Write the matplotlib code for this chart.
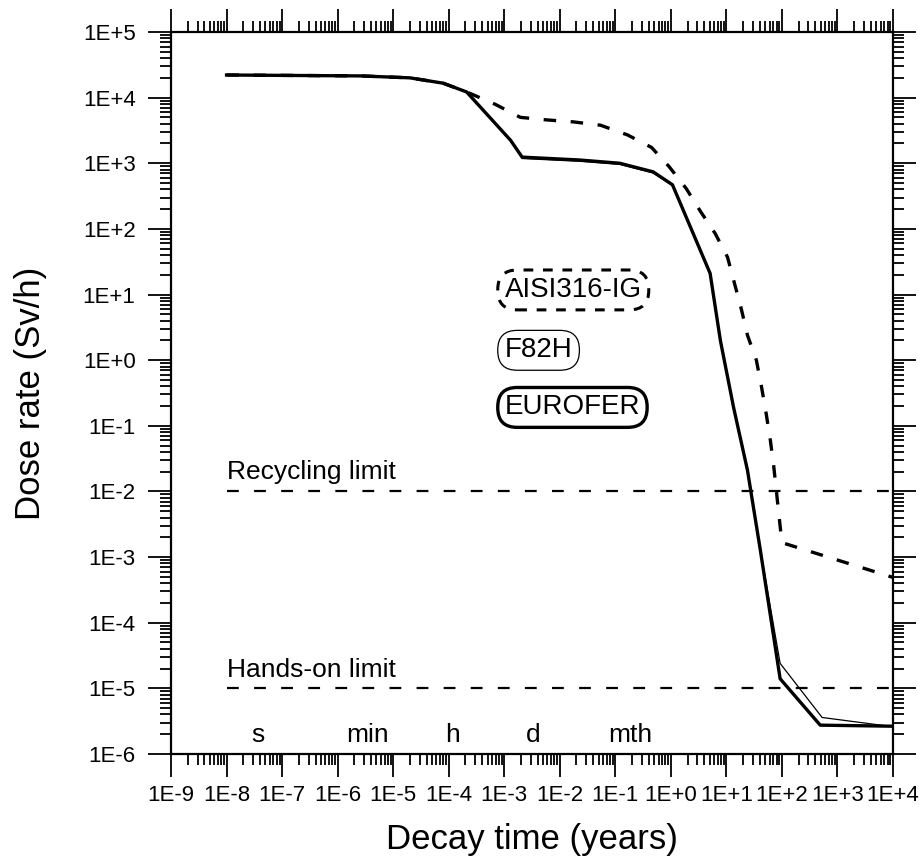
"""
dose rate vs decay time, log-log, three steels
"""

import numpy as np
import matplotlib
matplotlib.use("Agg")
import matplotlib.pyplot as plt
from matplotlib.ticker import LogLocator, FuncFormatter, NullFormatter

plt.rcParams["font.family"] = ["Liberation Sans", "DejaVu Sans"]
plt.rcParams["lines.scale_dashes"] = False

# decay time (years) and dose rate (Sv/h)
eurofer_t = [1e-8, 2.6e-6, 2.0e-5, 7.9e-5, 2.1e-4, 1.3e-3, 2.1e-3, 2.3e-2, 0.12,
             0.48, 1.07, 5.1, 7.8, 13.5, 24, 41, 93, 490, 1e4]
eurofer_d = [22100, 21400, 20000, 16600, 12200, 2240, 1240, 1120, 1000,
             740, 470, 21, 2.0, 0.19, 0.021, 1.26e-3, 1.4e-5, 2.75e-6, 2.65e-6]

f82h_t = [1e-8, 2.6e-6, 2.0e-5, 7.9e-5, 2.1e-4, 1.3e-3, 2.1e-3, 2.3e-2, 0.12,
          0.48, 1.07, 5.1, 7.8, 13.5, 24, 41, 93, 530, 1e4]
f82h_d = [22100, 21400, 20000, 16600, 12200, 2200, 1180, 1070, 960,
          710, 460, 21, 2.0, 0.19, 0.021, 1.3e-3, 2.4e-5, 3.6e-6, 2.6e-6]

aisi_t = [1e-8, 2.6e-6, 2.0e-5, 7.9e-5, 2.1e-4, 6.9e-4, 1.95e-3, 5.9e-3, 1.74e-2,
          5.4e-2, 0.166, 0.45, 0.93, 1.9, 3.4, 6.3, 10.5, 13.8, 18.6, 24,
          34.7, 43, 52, 62, 71, 100, 1e4]
aisi_d = [22100, 21400, 20000, 16600, 12200, 7900, 5000, 4570, 4270,
          3800, 2700, 1740, 890, 410, 186, 85, 37, 15.5, 6.0, 2.4,
          1.0, 0.39, 0.155, 0.060, 0.025, 1.66e-3, 4.9e-4]

recycling_limit = 1e-2
hands_on_limit = 1e-5
limit_start = 1e-8

# time unit marks along the bottom
unit_labels = ["s", "min", "h", "d", "mth"]
unit_pos = [3.7e-8, 3.4e-6, 1.15e-4, 3.3e-3, 0.186]
unit_y = 1.5e-6


def exp_label(v, pos):
    e = int(round(np.log10(v)))
    return f"1E{e:+d}"


fig = plt.figure(figsize=(9.22, 8.57), dpi=100)
ax = fig.add_axes([0.1855, 0.1202, 0.783, 0.8425])

ax.plot(eurofer_t, eurofer_d, color="black", lw=2.4, solid_joinstyle="round")
ax.plot(f82h_t, f82h_d, color="black", lw=0.9)
ax.plot(aisi_t, aisi_d, color="black", lw=2.4, dashes=(9, 10.5))

for lim in (recycling_limit, hands_on_limit):
    ax.plot([limit_start, 1e4], [lim, lim], color="black", lw=1.6, dashes=(8.5, 11))

ax.annotate("Recycling limit", (limit_start, recycling_limit), xytext=(0, 9),
            textcoords="offset points", fontsize=19, va="baseline", ha="left")
ax.annotate("Hands-on limit", (limit_start, hands_on_limit), xytext=(0, 8),
            textcoords="offset points", fontsize=19, va="baseline", ha="left")

for lab, xp in zip(unit_labels, unit_pos):
    ax.text(xp, unit_y, lab, fontsize=19, ha="center", va="baseline")

# boxed material names
box_x = 1.02e-3
ax.text(box_x, 10 ** 1.07, "AISI316-IG", fontsize=20, ha="left", va="center",
        bbox=dict(boxstyle="round,pad=0.25,rounding_size=0.7", fc="white", ec="black",
                  lw=2.2, ls=(0, (7, 7))))
ax.text(box_x, 10 ** 0.15, "F82H", fontsize=20, ha="left", va="center",
        bbox=dict(boxstyle="round,pad=0.25,rounding_size=0.7", fc="white", ec="black", lw=0.9))
ax.text(box_x, 10 ** -0.72, "EUROFER", fontsize=20, ha="left", va="center",
        bbox=dict(boxstyle="round,pad=0.25,rounding_size=0.7", fc="white", ec="black", lw=2.4))

ax.set_xscale("log")
ax.set_yscale("log")
ax.set_xlim(1e-9, 1e4)
ax.set_ylim(1e-6, 1e5)

for axis in (ax.xaxis, ax.yaxis):
    axis.set_major_locator(LogLocator(base=10, numticks=30))
    axis.set_minor_locator(LogLocator(base=10, subs=np.arange(2, 10), numticks=30))
    axis.set_major_formatter(FuncFormatter(exp_label))
    axis.set_minor_formatter(NullFormatter())

ax.tick_params(which="both", direction="out", top=True, right=True, width=1.3)
ax.tick_params(which="major", length=16.5, labelsize=16)
ax.tick_params(axis="x", which="major", pad=6)
ax.tick_params(axis="y", which="major", pad=9)
ax.tick_params(which="minor", length=8)
for sp in ax.spines.values():
    sp.set_linewidth(1.6)

ax.set_xlabel("Decay time (years)", fontsize=25)
ax.set_ylabel("Dose rate (Sv/h)", fontsize=25)
ax.xaxis.set_label_coords(0.5, -0.095)
ax.yaxis.set_label_coords(-0.172, 0.5)

fig.savefig("out.png", dpi=100)
plt.close(fig)
